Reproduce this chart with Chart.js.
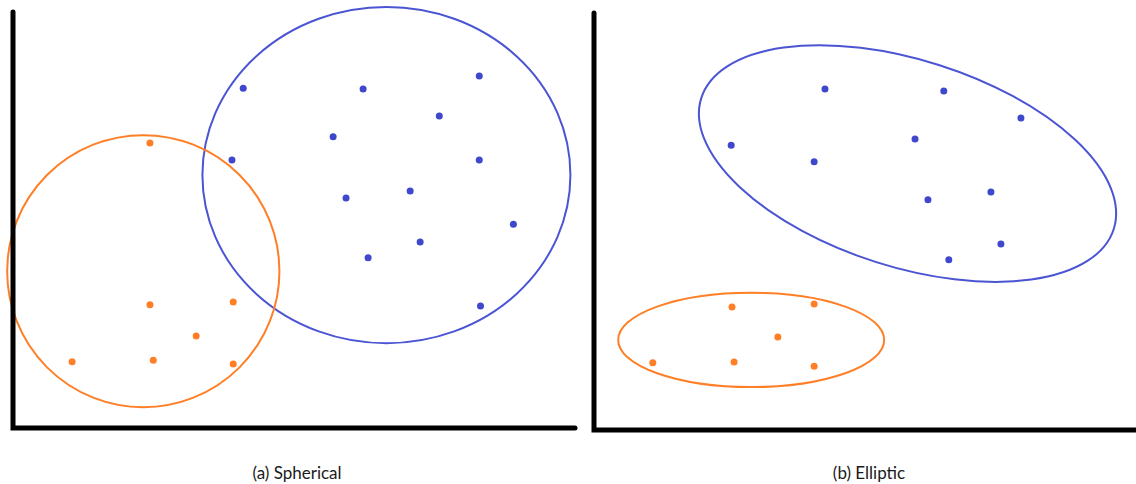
<!DOCTYPE html>
<html>
<head>
<meta charset="utf-8">
<script src="https://cdn.jsdelivr.net/npm/chart.js@4.4.1/dist/chart.umd.min.js"></script>
<style>
  html, body { margin: 0; padding: 0; background: #fff; }
  #wrap { position: relative; width: 1136px; height: 484px; overflow: hidden; }
  canvas { position: absolute; top: 0; }
  #panelA { left: 0; }
  #panelB { left: 580px; }
  .caption {
    position: absolute; top: 462px; width: 300px; text-align: center;
    font-family: Lato, "Open Sans", sans-serif; font-size: 17px; color: #1a1a1a;
  }
</style>
</head>
<body>
<div id="wrap">
  <canvas id="panelA" width="580" height="440"></canvas>
  <canvas id="panelB" width="556" height="440"></canvas>
  <div class="caption" style="left:147px">(a) Spherical</div>
  <div class="caption" style="left:719px">(b) Elliptic</div>
</div>
<script>
// puntos [x, y] de cada grupo
const esfAzul = [
  [5.53, 8.17], [8.41, 8.15], [11.20, 8.46], [10.24, 7.50], [7.69, 7.00],
  [5.26, 6.44], [11.20, 6.44], [9.54, 5.70], [8.00, 5.53], [12.02, 4.90],
  [9.78, 4.47], [8.53, 4.09], [11.23, 2.93]
];
const esfNaranja = [
  [3.29, 6.85], [3.29, 2.96], [5.29, 3.03], [4.40, 2.21],
  [1.42, 1.59], [3.37, 1.63], [5.29, 1.54]
];
const eliAzul = [
  [5.54, 8.18], [8.39, 8.13], [10.24, 7.48], [3.29, 6.83], [7.70, 6.98],
  [5.28, 6.43], [8.01, 5.52], [9.52, 5.71], [9.76, 4.46], [8.51, 4.08]
];
const eliNaranja = [
  [3.31, 2.95], [5.28, 3.02], [4.41, 2.23],
  [1.41, 1.61], [3.36, 1.63], [5.28, 1.53]
];

// contornos [cx, cy, rx, ry, giro en grados]
const esfContornoAzul = [8.97, 6.08, 4.42, 4.04, 0];
const esfContornoNaranja = [3.13, 3.77, 3.27, 3.27, 0];
const eliContornoAzul = [7.52, 6.39, 5.19, 2.48, 17.6];
const eliContornoNaranja = [3.77, 2.16, 3.19, 1.13, 0];

const AZUL = '#3f48cc';
const NARANJA = '#ff7f27';

const ejes = {
  id: 'ejes',
  afterDraw(chart) {
    const { ctx, scales: { x, y } } = chart;
    const x0 = x.getPixelForValue(x.min);
    const y0 = y.getPixelForValue(0);
    ctx.save();
    ctx.strokeStyle = '#000';
    ctx.lineWidth = 5;
    ctx.lineCap = 'round';
    ctx.lineJoin = 'miter';
    ctx.beginPath();
    ctx.moveTo(x0, y.getPixelForValue(y.max));
    ctx.lineTo(x0, y0);
    ctx.lineTo(x.getPixelForValue(x.max), y0);
    ctx.stroke();
    ctx.restore();
  }
};

const contornos = {
  id: 'contornos',
  beforeDatasetsDraw(chart, args, opts) {
    const { ctx, scales: { x, y } } = chart;
    ctx.save();
    ctx.lineWidth = 2;
    opts.lista.forEach(c => {
      const [cx, cy, rx, ry, giro] = c.forma;
      const px = x.getPixelForValue(cx);
      const py = y.getPixelForValue(cy);
      const rpx = x.getPixelForValue(cx + rx) - px;
      const rpy = py - y.getPixelForValue(cy + ry);
      ctx.strokeStyle = c.color;
      ctx.beginPath();
      ctx.ellipse(px, py, rpx, rpy, giro * Math.PI / 180, 0, Math.PI * 2);
      ctx.stroke();
    });
    ctx.restore();
  }
};

function puntos(lista, color) {
  return {
    data: lista.map(p => ({ x: p[0], y: p[1] })),
    backgroundColor: color,
    borderWidth: 0,
    pointRadius: 3.5,
    clip: false
  };
}

function grafica(id, azul, naranja, formaAzul, formaNaranja, xMax, pad) {
  return new Chart(document.getElementById(id), {
    type: 'scatter',
    data: { datasets: [puntos(azul, AZUL), puntos(naranja, NARANJA)] },
    options: {
      responsive: false,
      animation: false,
      layout: { padding: pad, autoPadding: false },
      scales: {
        x: { display: false, min: 0, max: xMax },
        y: { display: false, min: 0, max: 10 }
      },
      plugins: {
        legend: { display: false },
        tooltip: { enabled: false },
        contornos: {
          lista: [
            { forma: formaAzul, color: '#4b55d3' },
            { forma: formaNaranja, color: NARANJA }
          ]
        }
      }
    },
    plugins: [contornos, ejes]
  });
}

grafica('panelA', esfAzul, esfNaranja, esfContornoAzul, esfContornoNaranja, 13.5,
  { left: 13, top: 12, right: 5, bottom: 12 });
grafica('panelB', eliAzul, eliNaranja, eliContornoAzul, eliContornoNaranja, 13.0,
  { left: 14, top: 13, right: 0, bottom: 10 });
</script>
</body>
</html>
